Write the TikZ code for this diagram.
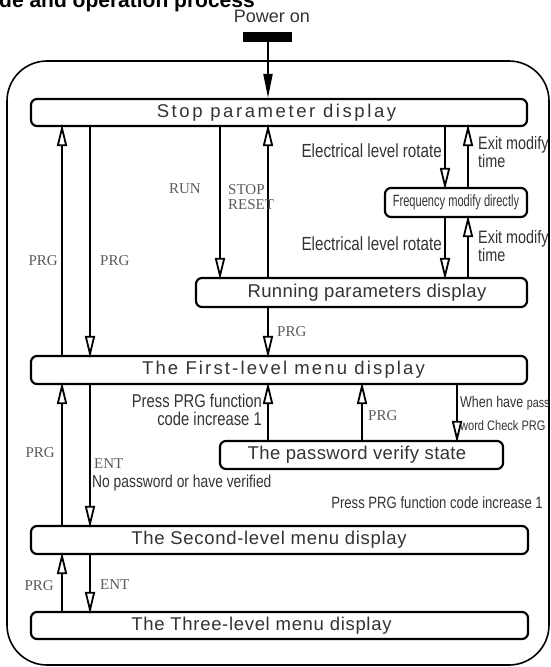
\documentclass[tikz,border=0pt]{standalone}
\usepackage{fontspec}
\setmainfont{Liberation Sans}
\newfontfamily\boxfont{Liberation Sans}
\newfontfamily\narrowfont[FakeStretch=0.8]{Liberation Sans}
\newfontfamily\narrowerfont[FakeStretch=0.68]{Liberation Sans}
\newfontfamily\seriffont{Liberation Serif}
\usetikzlibrary{arrows.meta}
\definecolor{txt}{HTML}{333333}
\definecolor{lbl}{HTML}{5A5A5A}
\tikzset{
  state/.style={draw=black, line width=2.2pt, rounded corners=6pt, inner sep=0pt,
    text=txt, font=\boxfont\fontsize{18.5}{20}\selectfont},
  arr/.style={line width=2pt, -{Triangle[open, length=22pt, width=10pt, line width=1.8pt]}, shorten >=-3pt},
  ser/.style={text=lbl, font=\seriffont\fontsize{15}{15.5}\selectfont, inner sep=0pt},
  nar/.style={text=txt, inner sep=0pt},
}
\begin{document}
\begin{tikzpicture}[x=1pt,y=-1pt]
\useasboundingbox (0,0) rectangle (551,667);
% title (cut at top)
\node[anchor=base west, inner sep=0pt, font=\bfseries\fontsize{21}{23}\selectfont] (title) at (-1,7) {de and operation process};
% power on
\node[inner sep=0pt, text=txt, font=\fontsize{18}{20}\selectfont] (pwron) at (272,16) {Power on};
\node[fill=black, minimum width=49pt, minimum height=10pt, inner sep=0pt] (bar) at (267.5,37) {};
% outer frame
\draw[line width=1.6pt, rounded corners=40pt] (7,61) rectangle (549,665);
% boxes
\node[state, minimum width=496pt, minimum height=27pt] (stop) at (279,112.5)
  {\addfontfeatures{LetterSpace=14}Stop parameter display\hspace*{5pt}};
\node[state, minimum width=142pt, minimum height=29pt] (freq) at (456,202.5)
  {\narrowerfont\fontsize{16.3}{18}\selectfont Frequency modify directly};
\node[state, minimum width=331pt, minimum height=29pt] (run) at (361.5,292.5)
  {\hspace*{11pt}\addfontfeatures{LetterSpace=2}Running parameters display};
\node[state, minimum width=496pt, minimum height=28pt] (first) at (279,370)
  {\hspace*{9pt}\addfontfeatures{LetterSpace=11.6}The First-level menu display};
\node[state, minimum width=283pt, minimum height=28pt] (pw) at (361.5,455)
  {\addfontfeatures{LetterSpace=2}The password verify state\hspace*{9pt}};
\node[state, minimum width=497pt, minimum height=28pt] (second) at (279.5,540)
  {\addfontfeatures{LetterSpace=3.7}The Second-level menu display\hspace*{21pt}};
\node[state, minimum width=497pt, minimum height=27pt] (three) at (279.5,625.5)
  {\addfontfeatures{LetterSpace=3.7}The Three-level menu display\hspace*{36pt}};
% columns
\coordinate (xa) at (62,0);
\coordinate (xb) at (90,0);
\coordinate (xc) at (220,0);
\coordinate (xd) at (268,0);
\coordinate (xe) at (445,0);
\coordinate (xf) at (468,0);
\coordinate (xg) at (362,0);
\coordinate (xh) at (457,0);
% power arrow
\draw[line width=2pt, -{Triangle[length=24pt, width=9pt]}] (bar.south -| xd) -- (stop.north -| xd);
% arrows
\draw[arr] (first.north -| xa) -- (stop.south -| xa);
\draw[arr] (stop.south -| xb) -- (first.north -| xb);
\draw[arr] (stop.south -| xc) -- (run.north -| xc);
\draw[arr] (run.north -| xd) -- (stop.south -| xd);
\draw[arr] (stop.south -| xe) -- (freq.north -| xe);
\draw[arr] (freq.north -| xf) -- (stop.south -| xf);
\draw[arr] (freq.south -| xe) -- (run.north -| xe);
\draw[arr] (run.north -| xf) -- (freq.south -| xf);
\draw[arr] (run.south -| xd) -- (first.north -| xd);
\draw[arr] (second.north -| xa) -- (first.south -| xa);
\draw[arr] (first.south -| xb) -- (second.north -| xb);
\draw[arr] (pw.north -| xd) -- (first.south -| xd);
\draw[arr] (pw.north -| xg) -- (first.south -| xg);
\draw[arr] (first.south -| xh) -- (pw.north -| xh);
\draw[arr] (three.north -| xa) -- (second.south -| xa);
\draw[arr] (second.south -| xb) -- (three.north -| xb);
% serif labels
\node[ser, anchor=east] (lprg1) at (58,261) {PRG};
\node[ser, anchor=west] (lprg2) at (100,261) {PRG};
\node[ser, anchor=east] (lrun) at (201,189) {RUN};
\node[ser, anchor=west, align=left] (lstop) at (228,197) {STOP\\RESET};
\node[ser, anchor=west] (lprg3) at (277,332) {PRG};
\node[ser, anchor=east] (lprg4) at (55,453) {PRG};
\node[ser, anchor=west] (lent1) at (94,464) {ENT};
\node[ser, anchor=west] (lprg5) at (368,416) {PRG};
\node[ser, anchor=east] (lprg6) at (54,586) {PRG};
\node[ser, anchor=west] (lent2) at (100,585) {ENT};
% narrow labels
\node[nar, anchor=east, font=\narrowfont\fontsize{19}{20}\selectfont] (lelr1) at (442,151) {Electrical level rotate};
\node[nar, anchor=east, font=\narrowfont\fontsize{19}{20}\selectfont] (lelr2) at (442,244) {Electrical level rotate};
\node[nar, anchor=west, align=left, font=\narrowfont\fontsize{18}{18}\selectfont] (lexit1) at (478,152.5) {Exit modify\\time};
\node[nar, anchor=west, align=left, font=\narrowfont\fontsize{18}{18}\selectfont] (lexit2) at (478,246.5) {Exit modify\\time};
\node[nar, anchor=east, align=right, font=\narrowfont\fontsize{18.5}{17.5}\selectfont] (lpress1) at (262,410) {Press PRG function\\code increase 1};
\node[nar, anchor=west, font=\narrowfont\fontsize{17.3}{19}\selectfont] (lnopw) at (92,483) {No password or have verified};
\node[nar, anchor=west, align=left, font=\narrowfont\fontsize{15.6}{23}\selectfont] (lwhen) at (460,413)
  {When have {\fontsize{13.5}{14}\selectfont pass}\\{\fontsize{13.8}{14}\selectfont word Check PRG}};
\node[nar, anchor=east, font=\narrowfont\fontsize{16.4}{18}\selectfont] (lpress2) at (543,503) {Press PRG function code increase 1};
\end{tikzpicture}
\end{document}
